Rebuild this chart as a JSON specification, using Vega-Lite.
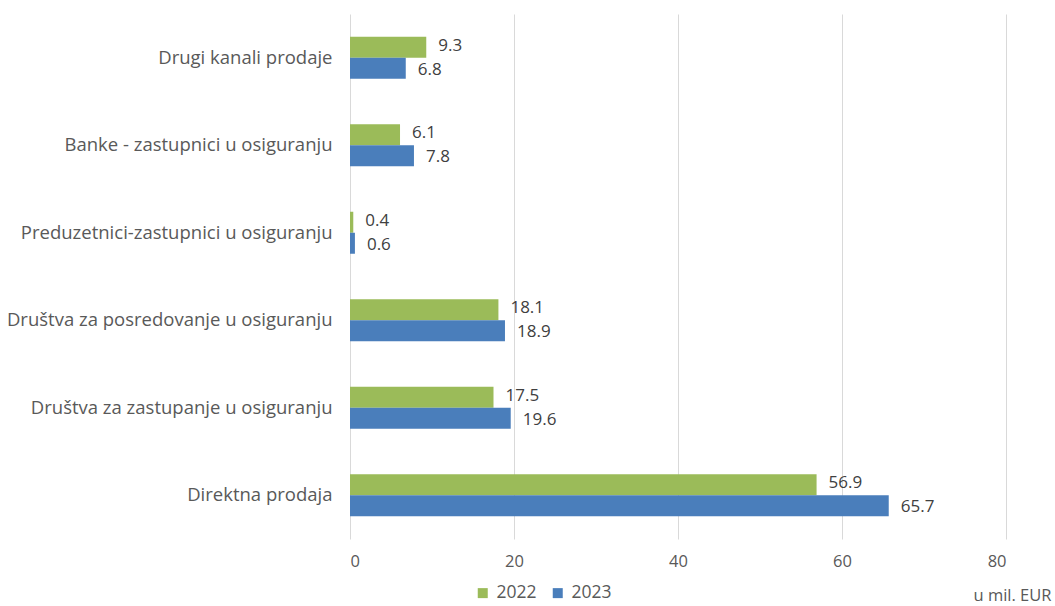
{
  "$schema": "https://vega.github.io/schema/vega-lite/v6.json",
  "autosize": "none",
  "width": 656,
  "height": 525,
  "padding": {"left": 350, "top": 14, "right": 49, "bottom": 67},
  "background": "white",
  "config": {
    "font": "Open Sans",
    "view": {"stroke": null}
  },
  "data": {
    "values": [
      {"kanal": "Drugi kanali prodaje", "godina": "2022", "vrijednost": 9.3},
      {"kanal": "Drugi kanali prodaje", "godina": "2023", "vrijednost": 6.8},
      {"kanal": "Banke - zastupnici u osiguranju", "godina": "2022", "vrijednost": 6.1},
      {"kanal": "Banke - zastupnici u osiguranju", "godina": "2023", "vrijednost": 7.8},
      {"kanal": "Preduzetnici-zastupnici u osiguranju", "godina": "2022", "vrijednost": 0.4},
      {"kanal": "Preduzetnici-zastupnici u osiguranju", "godina": "2023", "vrijednost": 0.6},
      {"kanal": "Društva za posredovanje u osiguranju", "godina": "2022", "vrijednost": 18.1},
      {"kanal": "Društva za posredovanje u osiguranju", "godina": "2023", "vrijednost": 18.9},
      {"kanal": "Društva za zastupanje u osiguranju", "godina": "2022", "vrijednost": 17.5},
      {"kanal": "Društva za zastupanje u osiguranju", "godina": "2023", "vrijednost": 19.6},
      {"kanal": "Direktna prodaja", "godina": "2022", "vrijednost": 56.9},
      {"kanal": "Direktna prodaja", "godina": "2023", "vrijednost": 65.7}
    ]
  },
  "encoding": {
    "y": {
      "field": "kanal",
      "type": "nominal",
      "sort": null,
      "scale": {"paddingInner": 0.52, "paddingOuter": 0.26},
      "axis": {
        "title": null,
        "domain": false,
        "ticks": false,
        "labelFontSize": 18.5,
        "labelColor": "#595959",
        "labelPadding": 18,
        "labelLimit": 400
      }
    },
    "yOffset": {
      "field": "godina",
      "type": "nominal",
      "sort": ["2022", "2023"],
      "scale": {"paddingInner": 0, "paddingOuter": 0}
    },
    "x": {
      "field": "vrijednost",
      "type": "quantitative",
      "scale": {"domain": [0, 80], "nice": false},
      "axis": {
        "values": [0, 20, 40, 60, 80],
        "title": "u mil. EUR",
        "titleFontSize": 16.5,
        "titleFontWeight": "normal",
        "titleColor": "#595959",
        "titleAnchor": "end",
        "titleAlign": "right",
        "titleBaseline": "top",
        "titleX": 701,
        "titleY": 48,
        "domain": false,
        "ticks": false,
        "grid": true,
        "gridColor": "#d9d9d9",
        "gridWidth": 1,
        "labelFontSize": 16.5,
        "labelColor": "#595959",
        "labelPadding": 14
      }
    }
  },
  "layer": [
    {
      "mark": {"type": "bar"},
      "encoding": {
        "color": {
          "field": "godina",
          "type": "nominal",
          "scale": {"domain": ["2022", "2023"], "range": ["#9bbb59", "#4a7ebb"]},
          "legend": {
            "title": null,
            "orient": "none",
            "direction": "horizontal",
            "legendX": 124,
            "legendY": 570,
            "symbolType": "square",
            "symbolSize": 100,
            "symbolStrokeWidth": 0,
            "labelFontSize": 17.5,
            "labelColor": "#595959",
            "labelOffset": 5,
            "columnPadding": 12
          }
        }
      }
    },
    {
      "transform": [{"filter": "datum.godina == '2022'"}],
      "mark": {"type": "text", "align": "left", "baseline": "middle", "dx": 12, "dy": -1.5, "fontSize": 17, "color": "#404040"},
      "encoding": {
        "text": {"field": "vrijednost", "type": "quantitative", "format": ".1f"}
      }
    },
    {
      "transform": [{"filter": "datum.godina == '2023'"}],
      "mark": {"type": "text", "align": "left", "baseline": "middle", "dx": 12, "dy": 1.5, "fontSize": 17, "color": "#404040"},
      "encoding": {
        "text": {"field": "vrijednost", "type": "quantitative", "format": ".1f"}
      }
    }
  ]
}
